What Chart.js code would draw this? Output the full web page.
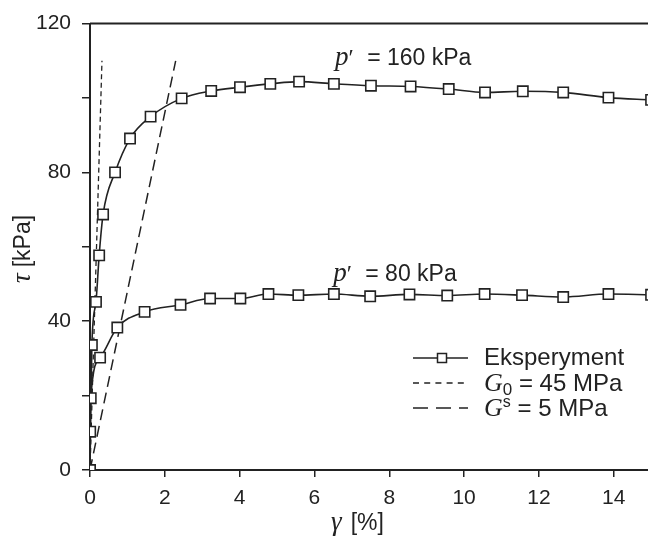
<!DOCTYPE html>
<html><head><meta charset="utf-8">
<script src="https://cdn.jsdelivr.net/npm/chart.js@4.4.1/dist/chart.umd.min.js"></script>
<style>html,body{margin:0;padding:0;overflow:hidden;background:#fff}</style>
</head><body>
<canvas id="c" width="660" height="539" style="display:block;width:660px;height:539px"></canvas>
<script>
// ---- data ----
const gamma160 = [0, 0.05, 0.16, 0.245, 0.35, 0.67, 1.07, 1.62, 2.45, 3.24, 4.01, 4.82, 5.59, 6.52, 7.51, 8.57, 9.59, 10.56, 11.57, 12.65, 13.86, 15.0];
const tau160   = [0, 33.6, 45.2, 57.7, 68.7, 80.0, 89.1, 95.0, 99.9, 101.9, 102.9, 103.8, 104.4, 103.8, 103.3, 103.1, 102.4, 101.5, 101.8, 101.5, 100.1, 99.5];
const gamma80  = [0, 0.005, 0.02, 0.27, 0.73, 1.46, 2.42, 3.21, 4.02, 4.77, 5.57, 6.52, 7.49, 8.54, 9.55, 10.55, 11.55, 12.65, 13.86, 15.0];
const tau80    = [0, 10.3, 19.3, 30.2, 38.3, 42.5, 44.4, 46.1, 46.1, 47.3, 47.0, 47.3, 46.7, 47.2, 46.9, 47.3, 47.0, 46.5, 47.3, 47.1];
const gammaG0  = [0, 0.32];
const tauG0    = [0, 110];
const gammaGs  = [0, 2.29];
const tauGs    = [0, 110];
const xTickValues = [0, 2, 4, 6, 8, 10, 12, 14];
const yTickValues = [0, 20, 40, 60, 80, 100, 120];
const yTickLabels = [0, 40, 80, 120];
const seriesLabels = ['p\u2032 = 160 kPa', 'p\u2032 = 80 kPa'];
const legendLabels = ['Eksperyment', 'G0 = 45 MPa', 'Gs = 5 MPa'];

const INK = '#222';
const SANS = '"Liberation Sans", Arial, sans-serif';
const SERIF = '"Liberation Serif", "Times New Roman", serif';

function pts(xs, ys) { return xs.map((v, i) => ({ x: v, y: ys[i] })); }

function rich(ctx, parts, x, y) {
  let cx = x;
  for (const p of parts) {
    ctx.font = p.font;
    ctx.fillText(p.t, cx, y + (p.dy || 0));
    cx += ctx.measureText(p.t).width + (p.gap || 0);
  }
}

const overlay = {
  id: 'overlay',
  afterDraw(chart) {
    const { ctx, chartArea: a, scales: { x, y } } = chart;
    ctx.save();
    // top frame line
    ctx.strokeStyle = INK; ctx.lineWidth = 2;
    ctx.beginPath(); ctx.moveTo(a.left, a.top); ctx.lineTo(a.right, a.top); ctx.stroke();

    ctx.fillStyle = INK;
    ctx.textBaseline = 'alphabetic';
    ctx.textAlign = 'left';
    // curve labels
    const lab = (txt, gx, ty) => {
      const px = x.getPixelForValue(gx), py = y.getPixelForValue(ty);
      const rest = txt.slice(2);
      rich(ctx, [
        { t: 'p', font: 'italic 27px ' + SERIF },
        { t: '\u2032', font: '24px ' + SERIF, gap: 7 },
        { t: rest, font: '23px ' + SANS }
      ], px, py);
    };
    lab(seriesLabels[0], 6.55, 108.9);
    lab(seriesLabels[1], 6.5, 50.8);

    // legend
    const lx0 = 413, lx1 = 468, tx = 484;
    const rows = [358, 383, 408];
    ctx.lineWidth = 1.5;
    ctx.strokeStyle = INK;
    ctx.setLineDash([]);
    ctx.beginPath(); ctx.moveTo(lx0, rows[0]); ctx.lineTo(lx1, rows[0]); ctx.stroke();
    ctx.fillStyle = '#fff';
    ctx.fillRect(437.5, rows[0] - 4.5, 9, 9);
    ctx.strokeRect(437.5, rows[0] - 4.5, 9, 9);
    ctx.lineWidth = 1.3;
    ctx.setLineDash([6, 5.2]);
    ctx.beginPath(); ctx.moveTo(lx0, rows[1]); ctx.lineTo(lx1, rows[1]); ctx.stroke();
    ctx.lineWidth = 1.5;
    ctx.setLineDash([15, 8]);
    ctx.beginPath(); ctx.moveTo(lx0, rows[2]); ctx.lineTo(lx1, rows[2]); ctx.stroke();
    ctx.setLineDash([]);

    ctx.fillStyle = INK;
    ctx.textBaseline = 'middle';
    ctx.font = '24px ' + SANS;
    ctx.fillText(legendLabels[0], tx, rows[0]);
    ctx.textBaseline = 'alphabetic';
    rich(ctx, [
      { t: legendLabels[1].slice(0, 1), font: 'italic 26px ' + SERIF },
      { t: legendLabels[1].slice(1, 2), font: '17px ' + SANS, dy: 4 },
      { t: legendLabels[1].slice(2), font: '24px ' + SANS }
    ], tx, rows[1] + 8);
    rich(ctx, [
      { t: legendLabels[2].slice(0, 1), font: 'italic 26px ' + SERIF },
      { t: legendLabels[2].slice(1, 2), font: '16px ' + SANS, dy: -9 },
      { t: legendLabels[2].slice(2), font: '24px ' + SANS }
    ], tx, rows[2] + 8);

    // axis titles
    rich(ctx, [
      { t: '\u03b3', font: 'italic 27px ' + SERIF, gap: 9 },
      { t: '[%]', font: '23px ' + SANS }
    ], 331, 530);
    ctx.save();
    ctx.translate(30, 283);
    ctx.rotate(-Math.PI / 2);
    rich(ctx, [
      { t: '\u03c4', font: 'italic 27px ' + SERIF, gap: 6 },
      { t: '[kPa]', font: '23px ' + SANS }
    ], 0, 0);
    ctx.restore();
    ctx.restore();
  }
};

const curveStyle = {
  showLine: true,
  borderColor: INK,
  borderWidth: 1.6,
  pointStyle: 'rect',
  pointRadius: 7.3,
  pointBackgroundColor: '#fff',
  pointBorderColor: INK,
  pointBorderWidth: 1.6,
  cubicInterpolationMode: 'monotone',
  order: 0
};

new Chart(document.getElementById('c'), {
  type: 'scatter',
  data: {
    datasets: [
      { label: 'G0', data: pts(gammaG0, tauG0), showLine: true, borderColor: INK, borderWidth: 1.3, borderDash: [5, 3.5], pointRadius: 0, order: 2 },
      { label: 'Gs', data: pts(gammaGs, tauGs), showLine: true, borderColor: INK, borderWidth: 1.5, borderDash: [11, 6], pointRadius: 0, order: 2 },
      Object.assign({ label: seriesLabels[1], data: pts(gamma80, tau80) }, curveStyle),
      Object.assign({ label: seriesLabels[0], data: pts(gamma160, tau160) }, curveStyle)
    ]
  },
  options: {
    responsive: false,
    animation: false,
    events: [],
    layout: { padding: { left: 0, top: 16, right: 1.5, bottom: 0 } },
    plugins: { legend: { display: false }, tooltip: { enabled: false } },
    scales: {
      x: {
        type: 'linear', min: 0, max: 15,
        afterBuildTicks: s => { s.ticks = xTickValues.map(v => ({ value: v })); },
        afterFit: s => { s.height = 69; },
        border: { display: true, color: INK, width: 2 },
        grid: { drawOnChartArea: false, drawTicks: true, tickLength: 7, color: INK, lineWidth: 1.5 },
        ticks: { color: INK, font: { family: SANS, size: 21 }, padding: 9, maxRotation: 0 }
      },
      y: {
        type: 'linear', min: 0, max: 120,
        afterBuildTicks: s => { s.ticks = yTickValues.map(v => ({ value: v })); },
        afterFit: s => { s.width = 90; },
        border: { display: true, color: INK, width: 2 },
        grid: { drawOnChartArea: false, drawTicks: true, tickLength: 8, color: INK, lineWidth: 1.5 },
        ticks: { color: INK, font: { family: SANS, size: 21 }, padding: 11,
          callback: v => yTickLabels.includes(v) ? String(v) : '' }
      }
    }
  },
  plugins: [overlay]
});
</script>
</body></html>
